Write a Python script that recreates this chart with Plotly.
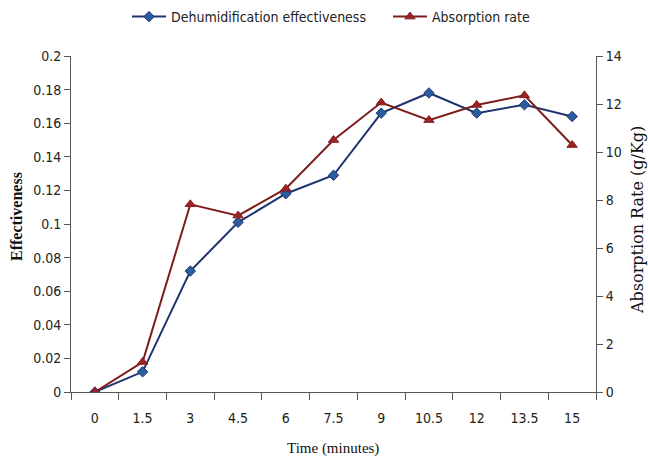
import plotly.graph_objects as go

time_labels = ["0", "1.5", "3", "4.5", "6", "7.5", "9", "10.5", "12", "13.5", "15"]
effectiveness = [0.0, 0.012, 0.072, 0.101, 0.118, 0.129, 0.166, 0.178, 0.166, 0.171, 0.164]
absorption = [0.0, 1.25, 7.82, 7.35, 8.47, 10.5, 12.06, 11.33, 11.96, 12.36, 10.29]

narrow = "DejaVu Sans Condensed, Liberation Sans Narrow, Roboto Condensed, sans-serif"
tick_font = dict(family=narrow, size=14, color="#222")
title_font = dict(family="Liberation Serif, Times New Roman, serif", size=15, color="#111")

fig = go.Figure()
fig.add_trace(go.Scatter(
    x=time_labels, y=effectiveness, name="Dehumidification effectiveness",
    mode="lines+markers",
    line=dict(color="#1F3470", width=2),
    marker=dict(symbol="diamond", size=8, color="#2B5C9E", line=dict(color="#1F3470", width=1)),
))
fig.add_trace(go.Scatter(
    x=time_labels, y=absorption, name="Absorption rate", yaxis="y2",
    mode="lines+markers",
    line=dict(color="#7E1C1C", width=2),
    marker=dict(symbol="triangle-up", size=9, color="#9E2424", line=dict(color="#7E1C1C", width=1)),
))

fig.update_layout(
    width=648, height=459,
    margin=dict(l=71, r=52, t=56, b=67, autoexpand=False),
    paper_bgcolor="white", plot_bgcolor="white",
    showlegend=True,
    legend=dict(orientation="h", xref="container", x=127 / 648, xanchor="left",
                y=1 + (56 - 17) / 336, yanchor="middle",
                font=dict(family=narrow, size=14, color="#222"),
                itemwidth=34, tracegroupgap=0, entrywidth=212, entrywidthmode="pixels"),
    xaxis=dict(
        type="category", range=[-0.5, 10.5], showgrid=False,
        showline=True, linecolor="#555", linewidth=1,
        ticks="outside", tickson="boundaries", ticklen=7, tickcolor="#555",
        tickfont=tick_font, automargin=False, ticklabelstandoff=13,
    ),
    yaxis=dict(
        range=[0, 0.2], dtick=0.02, showgrid=False, zeroline=False,
        showline=True, linecolor="#555", linewidth=1,
        ticks="outside", ticklen=6, tickcolor="#555",
        tickfont=tick_font, tickformat="~g", automargin=False,
    ),
    yaxis2=dict(
        range=[0, 14], dtick=2, overlaying="y", side="right", showgrid=False, zeroline=False,
        showline=True, linecolor="#555", linewidth=1,
        ticks="outside", ticklen=6, tickcolor="#555",
        tickfont=tick_font, automargin=False,
    ),
    annotations=[
        dict(text="Time (minutes)", xref="paper", yref="paper", x=(333 - 71) / 525, y=-(448 - 392) / 336,
             xanchor="center", yanchor="middle", showarrow=False, font=title_font),
        dict(text="<b>Effectiveness</b>", xref="paper", yref="paper", x=(16 - 71) / 525, y=(392 - 217) / 336,
             xanchor="center", yanchor="middle", showarrow=False, textangle=-90,
             font=dict(family="Liberation Serif, Times New Roman, serif", size=16, color="#111")),
        dict(text="Absorption Rate (g/Kg)", xref="paper", yref="paper", x=(637 - 71) / 525, y=(392 - 220) / 336,
             xanchor="center", yanchor="middle", showarrow=False, textangle=-90,
             font=dict(family="DejaVu Serif, Liberation Serif, serif", size=16, color="#111")),
    ],
)

fig.write_html("out.html", config={"displayModeBar": False},
               post_script="document.body.style.margin='0';document.body.style.padding='0';")
